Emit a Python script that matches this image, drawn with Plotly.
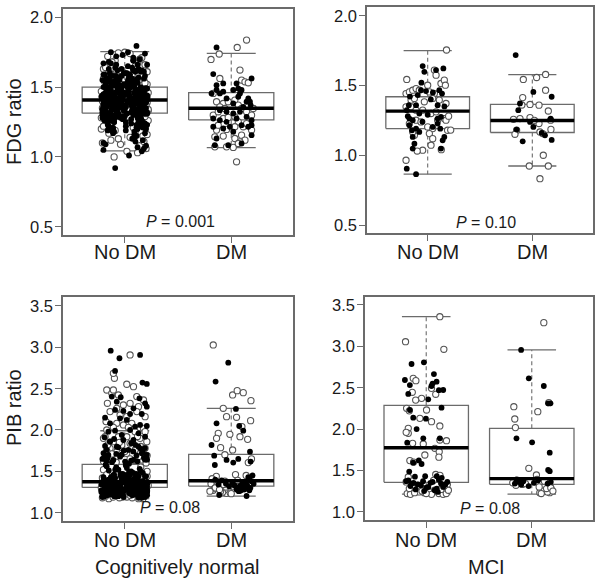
import plotly.graph_objects as go

W, H = 601, 585
groups = ["No DM", "DM"]
positions = [1, 2]
fdg_ticks = [0.5, 1.0, 1.5, 2.0]
pib_ticks = [1.0, 1.5, 2.0, 2.5, 3.0, 3.5]

# ---------------- box statistics (No DM, DM) ----------------
fdg_cn_lo = [1.043, 1.067]
fdg_cn_q1 = [1.313, 1.265]
fdg_cn_med = [1.408, 1.348]
fdg_cn_q3 = [1.500, 1.461]
fdg_cn_hi = [1.754, 1.742]

fdg_mci_lo = [0.864, 0.923]
fdg_mci_q1 = [1.191, 1.163]
fdg_mci_med = [1.316, 1.249]
fdg_mci_q3 = [1.419, 1.364]
fdg_mci_hi = [1.749, 1.577]

pib_cn_lo = [1.170, 1.200]
pib_cn_q1 = [1.306, 1.322]
pib_cn_med = [1.374, 1.386]
pib_cn_q3 = [1.584, 1.704]
pib_cn_hi = [1.990, 2.260]

pib_mci_lo = [1.214, 1.214]
pib_mci_q1 = [1.355, 1.331]
pib_mci_med = [1.774, 1.400]
pib_mci_q3 = [2.286, 2.008]
pib_mci_hi = [3.359, 2.956]

p_fdg_cn = "<i>P</i> = 0.001"
p_fdg_mci = "<i>P</i> = 0.10"
p_pib_cn = "<i>P</i> = 0.08"
p_pib_mci = "<i>P</i> = 0.08"

# ---------------- individual subjects (value, jitter offset) ----------------
# FDG, cognitively normal, No DM
fdg_cn_nodm_fill_y = [
    1.41, 1.52, 1.33, 1.27, 1.46, 1.38, 1.61, 1.22, 1.44, 1.35, 1.49, 1.30, 1.57, 1.42, 1.25, 1.39, 1.54, 1.36, 1.19, 1.47,
    1.43, 1.31, 1.58, 1.40, 1.28, 1.50, 1.34, 1.63, 1.45, 1.21, 1.37, 1.53, 1.29, 1.44, 1.66, 1.32, 1.48, 1.24, 1.40, 1.55,
    1.36, 1.45, 1.18, 1.51, 1.42, 1.30, 1.60, 1.39, 1.26, 1.47, 1.34, 1.56, 1.43, 1.15, 1.38, 1.50, 1.28, 1.64, 1.41, 1.33,
    1.48, 1.23, 1.40, 1.54, 1.35, 1.46, 1.20, 1.59, 1.37, 1.44, 1.31, 1.52, 1.27, 1.42, 1.69, 1.36, 1.49, 1.17, 1.45, 1.39,
    1.32, 1.57, 1.43, 1.26, 1.50, 1.38, 1.62, 1.29, 1.46, 1.34, 1.41, 1.55, 1.22, 1.47, 1.36, 1.13, 1.51, 1.40, 1.30, 1.44,
    1.58, 1.35, 1.42, 1.24, 1.48, 1.39, 1.67, 1.31, 1.45, 1.28, 1.53, 1.37, 1.43, 1.19, 1.50, 1.33, 1.61, 1.40, 1.26, 1.46,
    1.38, 1.52, 1.29, 1.44, 1.35, 1.56, 1.21, 1.41, 1.49, 1.32, 1.63, 1.37, 1.47, 1.25, 1.43, 1.54, 1.16, 1.39, 1.30, 1.51,
    1.45, 1.34, 1.60, 1.27, 1.42, 1.48, 1.36, 1.71, 1.23, 1.40, 1.53, 1.31, 1.46, 1.38, 1.11, 1.50, 1.43, 1.28, 1.57, 1.35,
    1.41, 1.26, 1.55, 1.44, 1.33, 1.49, 1.20, 1.39, 1.62, 1.30, 1.47, 1.36, 1.52, 1.42, 1.24, 1.58, 1.34, 1.45, 1.14, 1.40,
    1.37, 1.54, 1.29, 1.46, 1.41, 1.65, 1.32, 1.43, 1.22, 1.50, 1.38, 1.27, 1.56, 1.44, 1.35, 1.48, 1.18, 1.42, 1.60, 1.31,
    1.795, 1.75, 1.72, 1.74, 1.68, 1.70, 1.09, 1.08, 1.05, 1.04, 0.92, 1.01, 1.12, 1.10, 1.73, 1.66, 1.07, 1.75, 1.69, 1.06,
    1.39, 1.47, 1.30, 1.56, 1.43, 1.25, 1.51, 1.36, 1.61, 1.33, 1.45, 1.21, 1.49, 1.38, 1.57, 1.29, 1.42, 1.53, 1.34, 1.46,
    1.27, 1.40, 1.55, 1.32, 1.48, 1.37, 1.64, 1.23, 1.44, 1.31, 1.52, 1.41, 1.19, 1.35, 1.59, 1.28, 1.46, 1.39, 1.50, 1.24,
    1.43, 1.33, 1.58, 1.36, 1.26, 1.49, 1.41, 1.67, 1.30, 1.45, 1.37, 1.54, 1.22, 1.40, 1.47, 1.32, 1.62, 1.38, 1.28, 1.51,
    1.35, 1.44, 1.20, 1.53, 1.39, 1.31, 1.48, 1.42, 1.57, 1.26, 1.36, 1.60, 1.43, 1.29, 1.50, 1.34, 1.17, 1.46, 1.40, 1.55,
    1.32, 1.49, 1.38, 1.63, 1.25, 1.44, 1.35, 1.52, 1.41, 1.23, 1.47, 1.33, 1.58, 1.37, 1.28, 1.45, 1.40, 1.66, 1.30, 1.42,
    1.54, 1.36, 1.21, 1.48, 1.43, 1.31, 1.59, 1.39, 1.27, 1.50, 1.34, 1.46, 1.15, 1.41, 1.56, 1.38, 1.24, 1.44, 1.62, 1.33,
]
fdg_cn_nodm_fill_dx = [
    -0.12, 0.08, -0.19, 0.15, 0.02, -0.06, 0.18, -0.15, 0.11, -0.02, 0.20, -0.09, 0.05, -0.21, 0.13, -0.04, 0.09, -0.17, 0.01, 0.16,
    0.04, -0.14, 0.19, -0.07, 0.12, -0.20, 0.07, -0.03, 0.17, -0.11, 0.14, -0.18, 0.00, 0.21, -0.08, 0.10, -0.13, 0.06, -0.16, 0.03,
    -0.05, 0.16, -0.10, 0.09, -0.19, 0.13, -0.01, 0.20, -0.14, 0.04, -0.07, 0.18, -0.22, 0.11, -0.03, 0.15, -0.12, 0.07, -0.17, 0.19,
    0.10, -0.16, 0.02, -0.09, 0.17, -0.04, 0.12, -0.20, 0.06, -0.13, 0.21, -0.01, 0.14, -0.18, 0.08, -0.06, 0.19, -0.11, 0.03, -0.15,
    0.13, -0.08, 0.20, -0.17, 0.05, -0.12, 0.16, -0.02, 0.09, -0.21, 0.11, -0.05, 0.18, -0.14, 0.01, 0.07, -0.10, 0.15, -0.19, 0.04,
    -0.11, 0.14, -0.06, 0.19, -0.15, 0.08, -0.20, 0.02, 0.17, -0.09, 0.12, -0.03, 0.21, -0.16, 0.06, -0.13, 0.10, -0.07, 0.16, -0.18,
    0.07, -0.12, 0.15, -0.04, 0.20, -0.17, 0.11, -0.08, 0.03, -0.21, 0.13, -0.01, 0.18, -0.10, 0.05, -0.15, 0.09, -0.19, 0.14, 0.00,
    -0.09, 0.17, -0.14, 0.06, -0.02, 0.12, -0.18, 0.08, 0.19, -0.11, 0.02, -0.06, 0.15, -0.20, 0.10, -0.16, 0.21, -0.04, 0.13, -0.12,
    0.16, -0.19, 0.04, -0.10, 0.11, -0.15, 0.20, -0.05, 0.08, -0.13, 0.17, -0.01, 0.06, -0.20, 0.14, -0.08, 0.19, -0.12, 0.09, -0.03,
    -0.16, 0.10, -0.07, 0.18, -0.13, 0.03, 0.21, -0.10, 0.15, -0.18, 0.07, -0.02, 0.12, -0.21, 0.17, -0.06, 0.09, -0.14, 0.01, 0.19,
    0.11, 0.03, -0.08, 0.19, -0.15, 0.14, -0.18, 0.20, -0.20, 0.16, -0.09, 0.04, 0.17, -0.20, -0.02, 0.21, 0.12, -0.13, 0.08, 0.18,
    0.03, -0.17, 0.12, -0.05, 0.19, -0.10, 0.07, -0.20, 0.15, -0.01, 0.10, -0.14, 0.21, -0.07, 0.04, -0.18, 0.16, -0.11, 0.00, 0.13,
    -0.13, 0.06, -0.21, 0.14, -0.03, 0.18, -0.09, 0.11, -0.16, 0.02, -0.06, 0.20, -0.12, 0.09, -0.19, 0.15, -0.02, 0.07, -0.15, 0.17,
    0.12, -0.08, 0.04, -0.18, 0.16, -0.04, 0.21, -0.13, 0.08, -0.20, 0.14, -0.10, 0.01, 0.18, -0.15, 0.06, -0.07, 0.11, -0.21, 0.03,
    -0.02, 0.15, -0.11, 0.07, -0.19, 0.10, -0.05, 0.20, -0.14, 0.13, -0.09, 0.02, 0.17, -0.16, 0.05, -0.12, 0.19, -0.01, 0.09, -0.20,
    0.18, -0.06, 0.09, -0.15, 0.01, -0.19, 0.14, -0.10, 0.06, 0.21, -0.13, 0.11, -0.03, 0.16, -0.18, 0.04, -0.08, 0.12, -0.21, 0.08,
    -0.14, 0.01, 0.17, -0.07, 0.20, -0.17, 0.05, -0.12, 0.13, -0.04, 0.19, -0.09, 0.10, -0.20, 0.07, -0.15, 0.16, -0.01, 0.11, -0.18,
]
fdg_cn_nodm_open_y = [
    1.75, 1.44, 1.21, 1.58, 1.06, 1.33, 1.69, 1.27, 1.50, 1.12, 1.74, 1.39, 1.63, 1.18, 1.47, 1.00, 1.55, 1.30, 1.42, 1.24,
    1.66, 1.10, 1.36, 1.52, 1.745, 1.15, 1.60, 1.03, 1.45, 1.26, 1.71, 1.20, 1.38, 1.57, 1.08, 1.48, 1.32, 1.64, 1.17, 1.41,
    1.54, 1.29, 1.04, 1.67, 1.35, 1.23, 1.51, 1.14, 1.61, 1.43, 1.70, 1.09, 1.37, 1.56, 1.28, 1.46, 1.19, 1.62, 1.34, 1.49,
    1.25, 1.68, 1.31, 1.13, 1.53, 1.40, 1.72, 1.22, 1.59, 1.11, 1.43, 1.30, 1.65, 1.16, 1.37, 1.55, 1.26, 1.47, 1.21, 1.34,
    1.52, 1.41, 1.28, 1.19, 1.63, 1.46, 1.35, 1.24, 1.58, 1.49,
]
fdg_cn_nodm_open_dx = [
    0.00, -0.21, 0.19, -0.16, 0.20, 0.22, -0.09, -0.19, 0.17, -0.13, 0.05, 0.21, -0.20, 0.15, -0.22, -0.10, 0.18, -0.17, 0.13, 0.20,
    0.19, -0.21, -0.19, 0.21, -0.06, 0.17, -0.14, 0.12, -0.18, 0.22, 0.16, -0.22, 0.18, -0.12, 0.14, 0.20, 0.21, -0.18, -0.15, -0.20,
    -0.19, 0.19, 0.02, 0.12, -0.21, -0.17, 0.16, 0.05, 0.21, -0.19, 0.14, -0.04, 0.20, -0.20, -0.22, 0.22, 0.10, -0.08, 0.18, -0.16,
    0.16, -0.12, 0.20, -0.06, 0.19, -0.21, -0.16, -0.20, 0.07, 0.18, 0.21, -0.18, 0.10, 0.21, -0.20, -0.17, -0.13, 0.18, 0.08, 0.22,
    -0.03, -0.14, 0.13, -0.09, 0.03, 0.10, -0.05, 0.02, -0.07, 0.06,
]

# FDG, cognitively normal, DM
fdg_cn_dm_fill_y = [
    1.784, 1.593, 1.562, 1.514, 1.526, 1.479, 1.526, 1.49, 1.479, 1.455,
    1.431, 1.419, 1.395, 1.395, 1.371, 1.359, 1.479, 1.455, 1.455, 1.467,
    1.419, 1.383, 1.335, 1.323, 1.311, 1.323, 1.287, 1.263, 1.216, 1.275,
    1.263, 1.251, 1.275, 1.216, 1.227, 1.132, 1.084, 1.084, 1.096, 1.156,
    1.18, 1.204, 1.216, 1.227,
]
fdg_cn_dm_fill_dx = [
    -0.138, -0.169, 0.191, -0.138, -0.075, 0.019, 0.05, 0.066, 0.097, 0.082,
    0.066, 0.16, 0.176, 0.144, 0.182, 0.113, -0.138, -0.107, -0.185, -0.075,
    -0.044, 0.019, -0.107, -0.044, 0.019, 0.082, 0.144, 0.191, 0.16, -0.169,
    -0.107, -0.044, 0.05, -0.013, 0.097, -0.138, -0.154, -0.028, 0.097, 0.191,
    0.019, -0.075, -0.169, 0.191,
]
fdg_cn_dm_open_y = [
    1.837, 1.784, 1.698, 1.737, 1.562, 1.622, 1.55, 1.538, 1.531, 1.455,
    1.395, 1.383, 1.359, 1.395, 1.407, 1.371, 1.299, 1.323, 1.275, 1.283,
    1.287, 1.347, 1.323, 1.299, 1.347, 1.216, 1.251, 1.192, 1.197, 1.216,
    1.239, 1.192, 1.144, 1.149, 1.156, 1.12, 1.132, 1.108, 1.072, 1.068,
    1.096, 1.072, 0.965, 1.227, 1.347,
]
fdg_cn_dm_open_dx = [
    0.144, 0.056, -0.19, -0.113, -0.107, 0.082, 0.097, 0.129, 0.16, -0.169,
    -0.138, -0.075, -0.107, -0.028, 0.034, 0.066, -0.169, -0.122, -0.075, -0.028,
    0.034, 0.097, 0.144, 0.191, 0.207, 0.113, 0.066, -0.138, -0.044, 0.034,
    0.144, 0.191, -0.154, -0.075, 0.097, 0.129, 0.034, 0.082, -0.044, 0.019,
    0.066, -0.154, 0.05, -0.122, -0.06,
]

# FDG, MCI, No DM
fdg_mci_nodm_fill_y = [
    1.639, 1.598, 1.622, 1.61, 1.466, 1.46, 1.431, 1.466, 1.442, 1.359, 1.359, 1.359, 1.263, 1.251,
    1.299, 1.323, 1.263, 1.275, 1.215, 1.179, 1.191, 1.167, 1.203, 1.227, 1.131, 1.131, 1.107, 1.048,
    1.083, 1.048, 0.904, 0.864, 1.42, 1.40, 1.35, 1.29, 1.24, 1.19, 1.28, 1.45, 1.52,
]
fdg_mci_nodm_fill_dx = [
    -0.048, -0.032, 0.15, 0.08, -0.064, -0.016, -0.095, 0.111, 0.137, -0.18, -0.111, 0.095, -0.175, -0.143,
    -0.08, -0.2, 0.095, 0.127, -0.175, -0.15, -0.111, -0.08, 0.048, 0.095, -0.143, 0.159, 0.143, -0.143,
    -0.127, 0.127, -0.2, -0.111, -0.17, 0.03, 0.16, 0.0, -0.05, 0.12, -0.19, 0.05, -0.06,
]
fdg_mci_nodm_open_y = [
    1.754, 1.543, 1.61, 1.574, 1.514, 1.538, 1.502, 1.502, 1.442, 1.454, 1.466, 1.478, 1.466, 1.454, 1.442, 1.395,
    1.407, 1.407, 1.383, 1.395, 1.347, 1.347, 1.371, 1.323, 1.323, 1.299, 1.311, 1.263, 1.251, 1.227, 1.251, 1.239,
    1.203, 1.191, 1.143, 1.167, 1.155, 1.119, 1.179, 1.036, 1.072, 0.964, 1.251, 1.04, 1.03, 1.28, 1.18,
]
fdg_mci_nodm_open_dx = [
    0.18, -0.2, 0.064, 0.08, 0.127, 0.159, 0.169, 0.0, -0.207, -0.175, -0.143, -0.111, -0.08, 0.016, 0.064, -0.159,
    -0.127, 0.048, -0.032, 0.111, -0.207, -0.159, 0.175, -0.111, -0.048, 0.032, 0.08, 0.159, 0.175, -0.175, -0.111, -0.064,
    0.0, 0.048, -0.127, -0.143, 0.016, 0.048, 0.19, -0.048, 0.032, -0.207, 0.095, 0.13, -0.1, 0.2, 0.22,
]

# FDG, MCI, DM
fdg_mci_dm_fill_y = [1.718, 1.454, 1.419, 1.371, 1.323, 1.239, 1.203, 1.263, 1.143, 1.11, 1.10, 1.184, 1.16]
fdg_mci_dm_fill_dx = [-0.159, 0.01, 0.185, -0.118, -0.134, -0.022, 0.01, 0.175, 0.121, 0.185, -0.092, -0.15, 0.09]
fdg_mci_dm_open_y = [
    1.579, 1.557, 1.543, 1.466, 1.413, 1.364, 1.359, 1.317, 1.257, 1.263, 1.27, 1.227,
    1.251, 1.179, 1.15, 1.167, 1.155, 1.185, 1.0, 0.923, 0.923, 0.832, 1.36, 1.25,
]
fdg_mci_dm_open_dx = [
    0.127, 0.041, -0.086, 0.127, -0.092, -0.022, 0.064, 0.153, -0.18, -0.118, -0.022, 0.064,
    0.175, -0.15, -0.166, 0.073, 0.099, 0.178, 0.105, -0.029, 0.153, 0.073, -0.1, 0.02,
]

# PIB, cognitively normal, No DM
pib_cn_nodm_fill_y = [
    2.957, 2.865, 2.905, 2.712, 2.571, 2.555, 2.381, 2.341, 2.394, 2.402,
    2.261, 2.321, 2.281, 2.241, 2.229, 2.192, 2.192, 2.148, 2.14, 2.12,
    2.08, 2.06, 2.039, 2.047, 1.979, 1.991, 1.939, 1.999, 1.959, 1.858,
    1.878, 1.878, 1.918, 1.806, 1.798, 1.758, 1.798, 1.717, 1.697, 1.697,
    1.677, 1.637, 1.637, 1.617, 1.72, 1.66, 1.75, 1.62, 1.69, 1.64,
    1.78, 1.84, 1.91,
    1.31, 1.25, 1.38, 1.22, 1.29, 1.34, 1.45, 1.27, 1.20, 1.33, 1.41, 1.24, 1.36, 1.30, 1.52, 1.26, 1.19, 1.32, 1.39, 1.28,
    1.23, 1.35, 1.43, 1.29, 1.21, 1.37, 1.26, 1.31, 1.48, 1.24, 1.33, 1.40, 1.27, 1.22, 1.34, 1.56, 1.30, 1.25, 1.36, 1.20,
    1.32, 1.28, 1.44, 1.23, 1.35, 1.26, 1.30, 1.39, 1.21, 1.33, 1.47, 1.27, 1.24, 1.37, 1.29, 1.18, 1.31, 1.42, 1.25, 1.34,
    1.28, 1.36, 1.22, 1.30, 1.50, 1.26, 1.33, 1.24, 1.41, 1.29, 1.21, 1.35, 1.27, 1.38, 1.23, 1.32, 1.46, 1.25, 1.30, 1.19,
    1.34, 1.26, 1.29, 1.43, 1.22, 1.31, 1.37, 1.24, 1.28, 1.54, 1.33, 1.20, 1.35, 1.27, 1.40, 1.23, 1.30, 1.26, 1.49, 1.32,
    1.25, 1.38, 1.29, 1.21, 1.34, 1.27, 1.44, 1.31, 1.23, 1.36, 1.28, 1.58, 1.24, 1.32, 1.41, 1.26, 1.19, 1.35, 1.30, 1.22,
    1.37, 1.28, 1.33, 1.25, 1.46, 1.30, 1.22, 1.39, 1.27, 1.34, 1.24, 1.31, 1.51, 1.29, 1.21, 1.36, 1.26, 1.42, 1.32, 1.23,
    1.30, 1.45, 1.27, 1.35, 1.24, 1.33, 1.20, 1.38, 1.29, 1.26, 1.53, 1.31, 1.22, 1.40, 1.28, 1.34, 1.25, 1.47, 1.18, 1.32,
    1.29, 1.36, 1.23, 1.42, 1.31, 1.26, 1.57, 1.33, 1.21, 1.28,
    1.27, 1.33, 1.22, 1.39, 1.30, 1.25, 1.44, 1.29, 1.35, 1.21, 1.31, 1.26, 1.37, 1.23, 1.48, 1.32, 1.28, 1.24, 1.41, 1.34,
    1.30, 1.20, 1.36, 1.27, 1.43, 1.33, 1.25, 1.29, 1.38, 1.22, 1.31, 1.46, 1.26, 1.34, 1.19, 1.40, 1.28, 1.35, 1.23, 1.32,
    1.24, 1.37, 1.29, 1.52, 1.31, 1.26, 1.42, 1.21, 1.33, 1.28, 1.36, 1.25, 1.45, 1.30, 1.22, 1.39, 1.27, 1.34, 1.55, 1.29,
    1.35, 1.23, 1.31, 1.40, 1.26, 1.47, 1.32, 1.20, 1.38, 1.28, 1.25, 1.43, 1.30, 1.36, 1.22, 1.33, 1.27, 1.50, 1.24, 1.37,
    1.62, 1.66, 1.59, 1.71, 1.64, 1.68, 1.74, 1.61, 1.77, 1.70, 1.82, 1.86, 1.65, 1.73, 1.60, 1.79, 1.67, 1.89, 1.63, 1.76,
]
pib_cn_nodm_fill_dx = [
    -0.132, -0.05, 0.144, -0.091, 0.166, 0.207, 0.138, -0.075, -0.038, -0.122,
    0.082, 0.191, 0.207, -0.091, -0.013, 0.05, 0.16, -0.185, -0.044, 0.019,
    -0.138, 0.144, 0.097, 0.207, -0.154, -0.091, -0.028, 0.05, 0.129, -0.138,
    -0.013, 0.082, 0.191, -0.185, -0.075, 0.034, 0.129, 0.16, 0.207, -0.154,
    -0.044, -0.107, 0.082, 0.003, -0.2, 0.18, -0.01, -0.17, 0.11, 0.21,
    0.19, 0.06, -0.19,
    0.05, -0.18, 0.13, -0.07, 0.20, -0.12, 0.01, 0.16, -0.21, 0.09, -0.03, 0.18, -0.15, 0.11, -0.09, 0.21, -0.01, 0.07, -0.19, 0.14,
    -0.05, 0.19, -0.13, 0.03, 0.15, -0.20, 0.10, -0.08, 0.17, -0.16, 0.06, -0.11, 0.21, -0.02, 0.12, -0.17, 0.08, -0.22, 0.16, -0.06,
    0.02, -0.14, 0.20, -0.10, 0.14, -0.04, 0.18, -0.19, 0.07, -0.12, 0.11, -0.21, 0.04, 0.17, -0.08, 0.13, -0.16, 0.00, 0.21, -0.11,
    0.19, -0.03, 0.09, -0.17, 0.15, -0.09, 0.03, -0.20, 0.12, -0.06, 0.20, -0.14, 0.08, -0.01, 0.17, -0.18, 0.05, -0.10, 0.14, -0.21,
    -0.07, 0.16, -0.19, 0.10, -0.04, 0.21, -0.13, 0.06, -0.16, 0.02, 0.13, -0.10, 0.19, -0.22, 0.08, -0.05, 0.15, -0.12, 0.04, 0.18,
    0.11, -0.20, 0.07, -0.02, 0.17, -0.15, 0.13, -0.08, 0.20, -0.11, 0.01, -0.18, 0.15, -0.04, 0.09, -0.21, 0.19, -0.06, 0.12, -0.14,
    -0.10, 0.04, -0.17, 0.18, -0.01, 0.14, -0.20, 0.08, -0.13, 0.21, -0.07, 0.11, -0.15, 0.02, 0.16, -0.19, 0.10, -0.03, 0.20, -0.09,
    0.13, -0.11, 0.21, -0.05, 0.09, -0.16, 0.17, -0.02, 0.06, -0.21, 0.14, -0.08, 0.19, -0.12, 0.03, -0.18, 0.11, -0.04, 0.16, -0.14,
    0.08, -0.19, 0.12, -0.09, 0.18, -0.15, 0.01, 0.20, -0.06, 0.10,
    -0.04, 0.17, -0.20, 0.10, -0.13, 0.06, 0.19, -0.09, 0.02, -0.17, 0.14, -0.01, 0.21, -0.15, 0.08, -0.06, 0.12, -0.21, 0.04, 0.16,
    0.15, -0.07, 0.01, -0.19, 0.11, -0.12, 0.20, -0.03, 0.07, -0.16, 0.18, -0.10, 0.05, -0.22, 0.13, -0.02, 0.09, -0.14, 0.19, -0.08,
    0.09, -0.21, 0.16, -0.06, 0.03, -0.13, 0.12, 0.21, -0.10, 0.06, -0.18, 0.14, -0.04, 0.19, -0.11, 0.01, -0.16, 0.10, -0.08, 0.17,
    -0.12, 0.05, 0.20, -0.15, 0.13, -0.02, 0.08, -0.19, 0.17, -0.07, 0.11, -0.20, 0.02, 0.15, -0.09, 0.18, -0.14, 0.06, -0.05, 0.21,
    0.12, -0.16, 0.04, -0.08, 0.19, -0.19, 0.08, -0.12, 0.15, -0.03, 0.10, -0.14, -0.21, 0.17, 0.01, -0.06, 0.20, -0.10, 0.06, -0.17,
]
pib_cn_nodm_open_y = [
    2.905, 2.623, 2.683, 2.482, 2.442, 2.482, 2.551, 2.522, 2.422, 2.402,
    2.361, 2.321, 2.301, 2.321, 2.261, 2.281, 2.221, 2.221, 2.18, 2.16,
    2.16, 2.1, 2.08, 2.08, 2.031, 2.06, 2.019, 1.999, 2.031, 1.979,
    1.979, 1.918, 1.918, 1.918, 1.898, 1.858, 1.838, 1.818, 1.858, 1.778,
    1.758, 1.778, 1.737, 1.717, 1.898, 1.637, 1.717, 1.68, 1.62, 1.75,
    1.65, 1.80, 1.60, 1.63, 1.71, 1.85, 1.66, 1.77, 1.92, 1.69, 1.82, 1.74, 1.61,
    1.18, 1.36, 1.17, 1.52, 1.20, 1.44, 1.19, 1.30, 1.21, 1.48, 1.17, 1.25, 1.22, 1.40, 1.18, 1.55, 1.19, 1.33, 1.23, 1.46,
    1.20, 1.38, 1.17, 1.50, 1.18, 1.27, 1.21, 1.42, 1.19, 1.35,
]
pib_cn_nodm_open_dx = [
    0.05, -0.097, -0.107, -0.169, -0.122, -0.107, 0.019, 0.082, -0.06, 0.113,
    0.176, -0.163, -0.013, 0.05, -0.075, 0.129, -0.138, 0.113, -0.044, 0.019,
    0.191, -0.176, -0.075, 0.066, -0.107, -0.013, 0.176, -0.169, 0.034, 0.097,
    0.191, -0.185, -0.06, 0.019, 0.144, -0.107, 0.05, -0.028, 0.207, -0.138,
    0.097, 0.191, -0.075, 0.019, -0.2, 0.16, -0.028, 0.13, -0.2, -0.17,
    0.05, 0.15, 0.2, 0.09, -0.12, -0.05, -0.19, 0.18, 0.12, 0.21, -0.16, 0.00, -0.08,
    -0.21, 0.19, -0.15, -0.20, -0.08, 0.21, 0.02, -0.22, 0.11, 0.20, 0.17, -0.18, -0.12, -0.19, 0.07, 0.15, -0.02, 0.22, 0.20, -0.17,
    -0.18, 0.18, 0.13, 0.21, -0.05, 0.20, 0.05, -0.21, -0.11, -0.20,
]

# PIB, cognitively normal, DM
pib_cn_dm_fill_y = [
    2.812, 2.583, 2.253, 2.08, 2.047, 1.991, 1.818, 1.737, 1.689, 1.637, 1.649, 1.576, 1.605, 1.617,
    1.214, 1.202, 1.30, 1.34, 1.28, 1.36, 1.32, 1.40, 1.27, 1.33, 1.38, 1.29, 1.35, 1.31, 1.43,
    1.26, 1.37, 1.30, 1.34, 1.45, 1.28, 1.33, 1.39, 1.31, 1.36, 1.29, 1.42, 1.32, 1.35, 1.27,
]
pib_cn_dm_fill_dx = [
    -0.028, -0.147, 0.044, -0.138, 0.075, 0.113, -0.185, 0.176, -0.16, -0.044, 0.066, -0.154, 0.019, 0.182,
    -0.113, 0.144, 0.06, 0.10, 0.12, 0.14, 0.08, -0.15, 0.17, 0.03, 0.19, 0.09, -0.05, 0.13, 0.16,
    0.07, 0.11, 0.18, -0.12, 0.20, 0.05, 0.15, -0.09, 0.10, 0.01, 0.13, 0.17, -0.02, 0.21, 0.09,
]
pib_cn_dm_open_y = [
    3.026, 2.422, 2.474, 2.45, 2.353, 2.261, 2.16, 2.152, 2.112, 1.959,
    1.947, 1.918, 1.886, 1.898, 1.786, 1.758, 1.605, 1.70, 1.65, 2.04,
    1.234, 1.27, 1.30, 1.25, 1.35, 1.28, 1.44, 1.32, 1.26, 1.38, 1.29, 1.46, 1.24,
    1.33, 1.41, 1.27, 1.36, 1.31, 1.23, 1.45, 1.30, 1.28, 1.39, 1.26, 1.34,
]
pib_cn_dm_open_dx = [
    -0.169, 0.013, 0.056, 0.113, 0.185, -0.075, -0.044, 0.05, 0.182, -0.122,
    -0.013, 0.082, 0.154, -0.138, -0.1, 0.013, 0.16, -0.06, 0.19, 0.10,
    -0.044, -0.17, -0.12, -0.08, -0.19, -0.03, -0.14, 0.02, -0.10, -0.06, -0.16, 0.04, -0.01,
    -0.13, -0.18, 0.08, -0.09, -0.05, 0.00, 0.14, -0.15, -0.11, 0.06, -0.20, -0.07,
]

# PIB, MCI, No DM
pib_mci_nodm_fill_y = [
    2.786, 2.806, 2.665, 2.593, 2.573, 2.532, 2.52, 2.472, 2.424, 2.359,
    2.258, 2.23, 2.137, 2.125, 2.0, 1.888, 1.888, 1.835, 1.593, 1.577,
    1.62, 1.485, 1.424, 1.43, 1.43, 1.41, 2.47, 2.55,
    1.38, 1.35, 1.33, 1.37, 1.30, 1.36, 1.28, 1.34, 1.31, 1.27, 1.39,
    1.32, 1.29, 1.35, 1.26, 1.33, 1.37, 1.25, 1.30, 1.34, 1.24, 1.36,
]
pib_mci_nodm_fill_dx = [
    -0.139, -0.022, 0.073, -0.202, 0.098, -0.155, 0.05, 0.161, -0.17, 0.019,
    0.145, -0.155, -0.123, -0.003, -0.091, -0.028, 0.129, -0.18, -0.123, -0.044,
    -0.07, -0.161, -0.107, -0.01, 0.1, 0.147, 0.12, 0.06,
    -0.17, -0.12, -0.08, -0.03, 0.02, 0.06, 0.10, 0.14, -0.15, -0.10, 0.12,
    -0.05, 0.00, 0.04, 0.08, 0.18, -0.19, -0.02, 0.16, -0.14, 0.11, 0.20,
]
pib_mci_nodm_open_y = [
    3.358, 3.056, 2.964, 2.613, 2.585, 2.444, 2.492, 2.371, 2.25, 2.129,
    2.23, 2.089, 2.037, 2.008, 1.948, 1.827, 1.819, 1.867, 1.859, 1.767,
    1.726, 1.686, 1.618, 2.35, 2.42, 2.22, 1.96, 1.60, 1.66,
    1.22, 1.25, 1.21, 1.28, 1.24, 1.30, 1.22, 1.42, 1.26, 1.21, 1.33, 1.23, 1.27, 1.45,
    1.22, 1.29, 1.24, 1.36, 1.21, 1.26, 1.40, 1.23, 1.31, 1.25, 1.44, 1.22, 1.28, 1.38,
]
pib_mci_nodm_open_dx = [
    0.129, -0.196, 0.167, -0.123, -0.098, -0.132, 0.05, -0.044, -0.186, -0.06,
    0.003, 0.05, 0.129, -0.17, -0.17, -0.129, -0.028, 0.129, 0.192, 0.082,
    0.123, -0.013, -0.155, -0.1, 0.09, -0.16, -0.19, -0.12, 0.12,
    -0.18, -0.10, -0.15, 0.18, 0.03, -0.06, 0.12, -0.17, 0.08, 0.16, 0.20, -0.02, 0.14, 0.09,
    0.19, -0.13, -0.07, -0.19, 0.05, 0.21, 0.11, -0.11, 0.17, -0.04, 0.13, 0.00, -0.16, 0.07,
]

# PIB, MCI, DM
pib_mci_dm_fill_y = [
    2.956, 2.613, 2.52, 2.311, 2.311, 1.888, 1.839, 1.714, 1.505, 1.49,
    1.39, 1.36, 1.34, 1.37, 1.33, 1.35, 1.31, 1.38, 1.34, 1.36,
]
pib_mci_dm_fill_dx = [
    -0.101, -0.028, 0.114, 0.155, 0.177, -0.145, 0.003, 0.17, 0.155, 0.17,
    -0.145, -0.12, -0.16, -0.08, -0.10, 0.02, -0.03, 0.06, 0.15, 0.18,
]
pib_mci_dm_open_y = [
    3.286, 2.27, 2.121, 2.017, 2.21, 2.319, 1.525, 1.444,
    1.231, 1.25, 1.27, 1.23, 1.35, 1.38, 1.33, 1.26, 1.36, 1.30,
    1.24, 1.37, 1.34, 1.28, 1.22, 1.39, 1.32, 1.29, 1.25,
]
pib_mci_dm_open_dx = [
    0.114, -0.17, -0.161, -0.155, 0.057, 0.161, -0.028, 0.044,
    0.076, 0.10, 0.16, 0.17, -0.18, -0.13, -0.09, 0.19, 0.04, 0.07,
    0.15, 0.12, -0.06, 0.14, 0.09, 0.05, -0.15, 0.18, 0.20,
]

# ---------------- styling ----------------
FONT = "Liberation Sans, Arial, Helvetica, sans-serif"
FRAME = "#6b6b6b"
BOX_COL = "#6b6b6b"
TXT = "#1a1a1a"
BOX_HW = 0.40
CAP_HW = 0.23


def px_x(px):
    return px / W


def px_y(py):
    return 1 - py / H


panels = [
    dict(xa="x", ya="y", xdom=[63, 293], ydom=[8.9, 235.1], yr=[0.44, 2.06], ticks=fdg_ticks, xlab_y=252,
         stats=(fdg_cn_lo, fdg_cn_q1, fdg_cn_med, fdg_cn_q3, fdg_cn_hi),
         pts=[(fdg_cn_nodm_fill_y, fdg_cn_nodm_fill_dx, fdg_cn_nodm_open_y, fdg_cn_nodm_open_dx),
              (fdg_cn_dm_fill_y, fdg_cn_dm_fill_dx, fdg_cn_dm_open_y, fdg_cn_dm_open_dx)],
         ptxt=p_fdg_cn, pxy=(1.52, 0.535)),
    dict(xa="x2", ya="y2", xdom=[367, 593], ydom=[7.3, 233.4], yr=[0.44, 2.06], ticks=fdg_ticks, xlab_y=252,
         stats=(fdg_mci_lo, fdg_mci_q1, fdg_mci_med, fdg_mci_q3, fdg_mci_hi),
         pts=[(fdg_mci_nodm_fill_y, fdg_mci_nodm_fill_dx, fdg_mci_nodm_open_y, fdg_mci_nodm_open_dx),
              (fdg_mci_dm_fill_y, fdg_mci_dm_fill_dx, fdg_mci_dm_open_y, fdg_mci_dm_open_dx)],
         ptxt=p_fdg_mci, pxy=(1.56, 0.52)),
    dict(xa="x3", ya="y3", xdom=[63, 293], ydom=[297.4, 521.0], yr=[0.9, 3.6], ticks=pib_ticks, xlab_y=540,
         stats=(pib_cn_lo, pib_cn_q1, pib_cn_med, pib_cn_q3, pib_cn_hi),
         pts=[(pib_cn_nodm_fill_y, pib_cn_nodm_fill_dx, pib_cn_nodm_open_y, pib_cn_nodm_open_dx),
              (pib_cn_dm_fill_y, pib_cn_dm_fill_dx, pib_cn_dm_open_y, pib_cn_dm_open_dx)],
         ptxt=p_pib_cn, pxy=(1.425, 1.06)),
    dict(xa="x4", ya="y4", xdom=[365, 593], ydom=[296.7, 520.0], yr=[0.9, 3.6], ticks=pib_ticks, xlab_y=540,
         stats=(pib_mci_lo, pib_mci_q1, pib_mci_med, pib_mci_q3, pib_mci_hi),
         pts=[(pib_mci_nodm_fill_y, pib_mci_nodm_fill_dx, pib_mci_nodm_open_y, pib_mci_nodm_open_dx),
              (pib_mci_dm_fill_y, pib_mci_dm_fill_dx, pib_mci_dm_open_y, pib_mci_dm_open_dx)],
         ptxt=p_pib_mci, pxy=(1.60, 1.045)),
]

fig = go.Figure()
annotations = []
layout_axes = {}

for k, pn in enumerate(panels):
    xa, ya = pn["xa"], pn["ya"]
    lo, q1, med, q3, hi = pn["stats"]

    bx, by, wx, wy, cx, cy, mx, my = [], [], [], [], [], [], [], []
    for i, p in enumerate(positions):
        bx += [p - BOX_HW, p + BOX_HW, p + BOX_HW, p - BOX_HW, p - BOX_HW, None]
        by += [q1[i], q1[i], q3[i], q3[i], q1[i], None]
        wx += [p, p, None, p, p, None]
        wy += [q3[i], hi[i], None, q1[i], lo[i], None]
        cx += [p - CAP_HW, p + CAP_HW, None, p - CAP_HW, p + CAP_HW, None]
        cy += [hi[i], hi[i], None, lo[i], lo[i], None]
        mx += [p - BOX_HW, p + BOX_HW, None]
        my += [med[i], med[i], None]

    common = dict(xaxis=xa, yaxis=ya, showlegend=False, hoverinfo="skip")
    fig.add_trace(go.Scatter(x=wx, y=wy, mode="lines",
                             line=dict(color=BOX_COL, width=1.1, dash="4px,3px"), **common))
    fig.add_trace(go.Scatter(x=cx, y=cy, mode="lines", line=dict(color=BOX_COL, width=1.3), **common))
    fig.add_trace(go.Scatter(x=bx, y=by, mode="lines", line=dict(color=BOX_COL, width=1.3), **common))

    for i, p in enumerate(positions):
        fy, fdx, oy, odx = pn["pts"][i]
        assert len(fy) == len(fdx), (k, i, "fill", len(fy), len(fdx))
        assert len(oy) == len(odx), (k, i, "open", len(oy), len(odx))
        fig.add_trace(go.Scatter(
            x=[p + d for d in odx], y=oy, mode="markers",
            marker=dict(symbol="circle", size=6.2, color="white",
                        line=dict(color="#555555", width=1.1)), **common))
        fig.add_trace(go.Scatter(
            x=[p + d for d in fdx], y=fy, mode="markers",
            marker=dict(symbol="circle", size=5.8, color="black",
                        line=dict(width=0)), **common))

    fig.add_trace(go.Scatter(x=mx, y=my, mode="lines", line=dict(color="black", width=3.4), **common))

    axn = "" if k == 0 else str(k + 1)
    layout_axes["xaxis" + axn] = dict(
        domain=[px_x(pn["xdom"][0]), px_x(pn["xdom"][1])], range=[0.42, 2.58], anchor=ya,
        tickmode="array", tickvals=positions, showticklabels=False,
        showline=True, mirror=True, linecolor=FRAME, linewidth=1.5,
        ticks="outside", ticklen=6, tickwidth=1.3, tickcolor=FRAME,
        showgrid=False, zeroline=False, fixedrange=True)
    layout_axes["yaxis" + axn] = dict(
        domain=[px_y(pn["ydom"][1]), px_y(pn["ydom"][0])], range=pn["yr"], anchor=xa,
        tickmode="array", tickvals=pn["ticks"], showticklabels=False,
        showline=True, mirror=True, linecolor=FRAME, linewidth=1.5,
        ticks="outside", ticklen=6, tickwidth=1.3, tickcolor=FRAME,
        showgrid=False, zeroline=False, fixedrange=True)

    # tick labels
    for p, g in zip(positions, groups):
        annotations.append(dict(text=g, x=p, y=px_y(pn["xlab_y"]), xref=xa, yref="paper",
                                showarrow=False, xanchor="center", yanchor="middle",
                                font=dict(family=FONT, size=20, color=TXT)))
    for t in pn["ticks"]:
        annotations.append(dict(text="%.1f" % t, x=px_x(pn["xdom"][0] - 8), y=t, xref="paper", yref=ya,
                                showarrow=False, xanchor="right", yanchor="middle",
                                font=dict(family=FONT, size=16.5, color=TXT)))

    annotations.append(dict(text=pn["ptxt"], x=pn["pxy"][0], y=pn["pxy"][1], xref=xa, yref=ya,
                            showarrow=False, xanchor="center", yanchor="middle",
                            font=dict(family=FONT, size=16, color=TXT)))

for txt, x, y, ang in [("FDG ratio", 14, 122, -90), ("PIB ratio", 14, 408, -90),
                       ("Cognitively normal", 177, 567, 0), ("MCI", 487, 567, 0)]:
    annotations.append(dict(text=txt, x=px_x(x), y=px_y(y), xref="paper", yref="paper",
                            showarrow=False, textangle=ang, xanchor="center", yanchor="middle",
                            font=dict(family=FONT, size=20, color=TXT)))

fig.update_layout(
    width=W, height=H, autosize=False,
    margin=dict(l=0, r=0, t=0, b=0),
    paper_bgcolor="white", plot_bgcolor="white",
    showlegend=False, annotations=annotations, **layout_axes)

fig.write_html("out.html", config={"displayModeBar": False},
               post_script="document.body.style.margin='0px';document.body.style.overflow='hidden';")
